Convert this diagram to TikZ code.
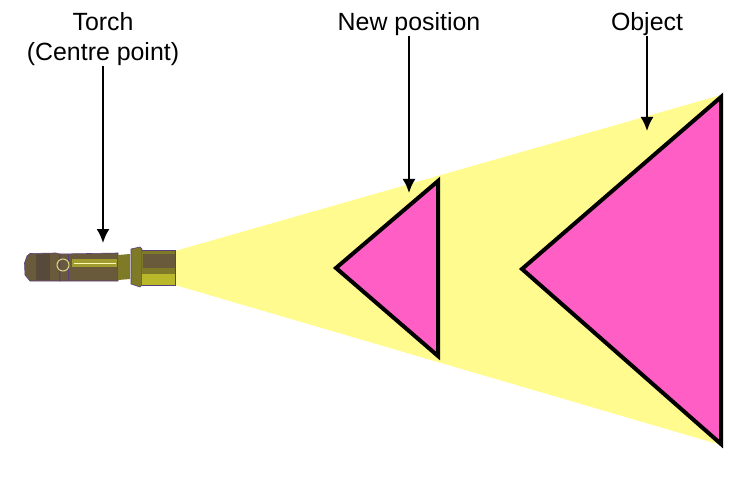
\documentclass[tikz,border=0pt]{standalone}
\usepackage{fontspec}
\setmainfont{Liberation Sans}
\usetikzlibrary{arrows.meta}
\definecolor{beam}{HTML}{FFFB8F}
\definecolor{objpink}{HTML}{FF5FC4}
\definecolor{torchdark}{HTML}{6A5A3C}
\definecolor{torchknurl}{HTML}{574A3A}
\definecolor{torchmid}{HTML}{7F7A28}
\definecolor{torchlite}{HTML}{B8B82A}
\definecolor{torchedge}{HTML}{5A3F78}
\tikzset{
  px/.style={x=1pt,y=-1pt},
  lab/.style={font=\fontsize{24.9}{30}\selectfont,align=center,inner sep=0pt,text=black},
  callout/.style={draw=black,line width=2pt,-{Latex[length=14pt,width=13pt]}},
  tri/.style={draw=black,fill=objpink,line width=4pt,miter limit=10,line join=miter},
  torchpart/.style={draw=torchedge,line width=.6pt}
}
\begin{document}
\begin{tikzpicture}[px]
\useasboundingbox (0,0) rectangle (750,500);
% beam
\fill[beam] (175,251) -- (721,95) -- (721,445) -- (175,285) -- cycle;
% triangles
\draw[tri] (721,97) -- (721,444) -- (522,269) -- cycle;
\draw[tri] (438,181) -- (438,356) -- (336,268) -- cycle;
% torch
\draw[torchpart,fill=torchdark] (27,256) -- (30,253.5) -- (56,253) -- (60,254) -- (60,281) -- (30,281) -- (25,275) -- (24.5,263) -- cycle;
\fill[torchknurl] (36,254) rectangle (50,280);
\draw[torchpart,fill=torchdark] (60,254) -- (118,253) -- (118,281) -- (60,281) -- cycle;
\fill[torchlite!70!torchdark] (72,259) rectangle (117,267);
\draw[white!70!yellow,line width=.6pt] (74,263) -- (116,263);
\draw[torchedge,line width=.7pt] (59,254) -- (59,281) (68,254) -- (68,281);
\draw[torchlite!55!white,line width=1pt] (63,265) circle (6);
\fill[torchmid] (118,255) -- (130,254) -- (130,279) -- (118,280) -- cycle;
\draw[torchpart,fill=torchmid] (131,249) -- (140,247) -- (142,249) -- (142,285) -- (140,287) -- (131,284) -- cycle;
\fill[torchmid] (142,250) rectangle (175,285);
\fill[torchlite] (142,274) rectangle (175,285);
\fill[torchdark] (143,254) rectangle (175,268);
\draw[torchedge,line width=.5pt] (142,250) -- (175,250) -- (175,285) -- (142,285);
% labels
\node[lab] (torch) at (103,39) {Torch\\(Centre point)};
\node[lab] (newpos) at (409,24.5) {New position};
\node[lab] (object) at (647,24.5) {Object};
% callouts
\coordinate (torchtip) at (103,243);
\coordinate (newtip) at (409,193);
\coordinate (objtip) at (647,131);
\draw[callout] (103,66) -- (torchtip);
\draw[callout] (409,36) -- (newtip);
\draw[callout] (647,36) -- (objtip);
\end{tikzpicture}
\end{document}
